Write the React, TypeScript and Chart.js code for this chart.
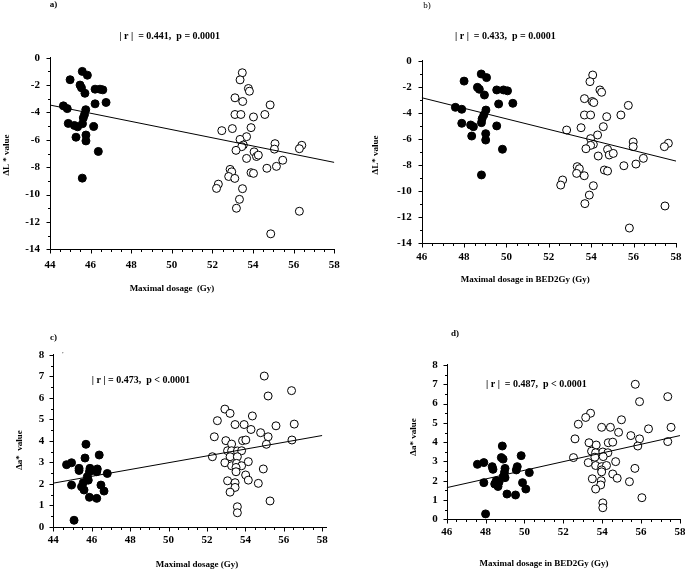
import React, { useEffect, useRef } from "react";
import { Chart, registerables } from "chart.js";

Chart.register(...registerables);

const PAGE_W = 685;
const PAGE_H = 570;
const FONT = "'Liberation Serif', 'Times New Roman', serif";

type Pt = [number, number];

// ---------------- DATA ----------------
// a) ΔL* vs maximal dosage (Gy)
const aFilled: Pt[] = [
  [45.59, -1.0], [45.84, -1.28], [44.99, -1.61], [45.48, -2.0], [45.55, -2.2], [45.72, -2.6],
  [46.22, -2.3], [46.46, -2.3], [46.6, -2.35], [46.76, -3.27], [46.22, -3.37], [44.66, -3.52],
  [44.85, -3.72], [45.76, -3.8], [45.7, -4.15], [45.64, -4.4], [44.9, -4.8], [45.2, -4.95],
  [45.36, -5.05], [45.6, -4.82], [46.15, -5.03], [45.28, -5.81], [45.77, -5.65], [45.77, -6.08],
  [46.38, -6.85], [45.59, -8.8],
];
const aOpen: Pt[] = [
  [53.47, -1.1], [53.36, -1.62], [53.77, -2.25], [53.82, -2.45], [53.11, -2.93], [53.49, -3.2],
  [54.84, -3.45], [53.11, -4.15], [53.4, -4.15], [54.02, -4.33], [54.58, -4.15], [53.9, -5.11],
  [52.46, -5.33], [52.98, -5.18], [53.68, -5.77], [53.36, -5.97], [53.52, -6.38], [53.44, -6.5],
  [53.16, -6.77], [55.08, -6.28], [55.05, -6.68], [56.4, -6.4], [56.28, -6.65], [54.05, -6.88],
  [54.17, -7.22], [54.26, -7.12], [53.68, -7.36], [55.46, -7.49], [55.15, -7.94], [54.68, -8.08],
  [52.87, -8.16], [52.95, -8.34], [53.9, -8.4], [54.02, -8.45], [52.8, -8.68], [53.1, -8.82],
  [52.29, -9.24], [52.2, -9.55], [53.48, -9.57], [53.33, -10.35], [53.18, -11.0], [56.28, -11.22],
  [54.87, -12.87],
];
const aFit: Pt[] = [[44, -3.46], [58, -7.65]];

// b) ΔL* vs maximal dosage in BED2Gy (Gy)
const bFilled: Pt[] = [
  [48.81, -1.0], [49.06, -1.28], [48.0, -1.55], [48.63, -2.03], [48.72, -2.18], [48.96, -2.62],
  [49.54, -2.23], [49.86, -2.23], [50.05, -2.3], [50.3, -3.26], [49.63, -3.31], [47.59, -3.57],
  [47.89, -3.72], [49.03, -3.78], [48.93, -4.16], [48.85, -4.45], [48.82, -4.75], [47.89, -4.8],
  [48.31, -4.93], [48.44, -5.06], [49.54, -5.0], [48.36, -5.78], [49.02, -5.6], [49.02, -6.09],
  [49.81, -6.8], [48.82, -8.78],
];
const bOpen: Pt[] = [
  [54.07, -1.08], [53.94, -1.59], [54.41, -2.23], [54.49, -2.41], [53.68, -2.9], [54.05, -3.12],
  [54.12, -3.2], [55.75, -3.42], [53.68, -4.16], [53.97, -4.16], [54.73, -4.29], [55.4, -4.16],
  [54.57, -5.06], [52.84, -5.32], [53.52, -5.14], [54.3, -5.7], [53.97, -5.98], [54.1, -6.42],
  [53.97, -6.5], [55.98, -6.24], [55.98, -6.6], [57.64, -6.34], [57.45, -6.6], [53.75, -6.76],
  [54.77, -6.81], [54.85, -7.24], [55.04, -7.12], [54.33, -7.32], [56.46, -7.5], [56.11, -7.94],
  [55.54, -8.07], [53.34, -8.14], [53.44, -8.3], [54.62, -8.4], [54.77, -8.48], [53.31, -8.66],
  [53.67, -8.84], [52.65, -9.17], [52.56, -9.56], [54.1, -9.61], [53.91, -10.33], [53.7, -10.99],
  [57.48, -11.17], [55.8, -12.87],
];
const bFit: Pt[] = [[46, -2.83], [58, -7.71]];

// c) Δa* vs maximal dosage (Gy)
const cFilled: Pt[] = [
  [45.08, 0.3], [45.7, 3.84], [46.39, 3.34], [45.65, 3.2], [44.69, 2.89], [44.95, 2.98],
  [45.34, 2.72], [45.34, 2.62], [45.91, 2.72], [45.88, 2.56], [46.29, 2.69], [46.26, 2.56],
  [46.81, 2.48], [45.77, 2.33], [45.82, 2.17], [45.56, 2.05], [45.47, 1.86], [45.6, 1.71],
  [44.95, 1.94], [46.48, 1.94], [46.64, 1.66], [45.88, 1.37], [46.26, 1.32],
];
const cOpen: Pt[] = [
  [54.98, 7.02], [56.4, 6.34], [55.18, 6.09], [52.93, 5.48], [53.2, 5.28], [52.54, 4.94],
  [54.36, 5.16], [53.46, 4.76], [53.93, 4.76], [54.29, 4.53], [55.59, 4.7], [56.54, 4.78],
  [54.79, 4.38], [52.38, 4.19], [55.18, 4.19], [56.42, 4.04], [52.98, 4.01], [53.28, 3.85],
  [53.85, 4.01], [54.02, 4.04], [55.09, 3.84], [52.28, 3.26], [53.07, 3.54], [53.28, 3.54],
  [53.58, 3.53], [53.8, 3.54], [53.2, 3.26], [53.58, 3.26], [52.93, 2.98], [53.28, 2.84],
  [53.54, 2.95], [53.8, 2.84], [53.51, 2.76], [53.51, 2.56], [54.15, 3.03], [54.93, 2.69],
  [54.01, 2.41], [53.07, 2.14], [53.46, 2.05], [54.15, 2.17], [54.67, 2.02], [53.46, 1.83],
  [53.2, 1.61], [55.28, 1.2], [53.58, 0.93], [53.58, 0.65],
];
const cFit: Pt[] = [[44, 2.03], [58, 4.25]];

// d) Δa* vs maximal dosage in BED2Gy (Gy)
const dFilled: Pt[] = [
  [48.0, 0.28], [48.86, 3.8], [49.83, 3.3], [48.81, 3.2], [48.9, 3.12], [47.58, 2.85],
  [47.91, 2.94], [48.34, 2.73], [48.38, 2.59], [49.0, 2.64], [48.97, 2.43], [49.63, 2.73],
  [49.58, 2.56], [50.25, 2.42], [48.9, 2.2], [49.0, 2.16], [48.55, 2.0], [48.69, 1.92],
  [47.91, 1.9], [48.47, 1.83], [48.64, 1.7], [49.9, 1.9], [50.07, 1.57], [49.1, 1.31],
  [49.54, 1.26],
];
const dOpen: Pt[] = [
  [55.7, 7.0], [57.37, 6.36], [55.92, 6.1], [53.4, 5.5], [53.15, 5.28], [52.77, 4.93],
  [54.99, 5.16], [53.97, 4.77], [54.42, 4.77], [54.84, 4.51], [56.38, 4.69], [57.54, 4.77],
  [55.47, 4.34], [52.6, 4.17], [55.92, 4.17], [57.37, 4.03], [53.32, 3.97], [53.69, 3.85],
  [54.31, 3.97], [54.54, 4.0], [55.83, 3.8], [52.52, 3.2], [53.45, 3.53], [53.66, 3.45],
  [54.03, 3.49], [54.29, 3.45], [53.62, 3.22], [54.05, 3.25], [53.28, 2.94], [53.66, 2.79],
  [53.97, 2.73], [54.22, 2.79], [53.97, 2.56], [53.97, 2.46], [54.69, 2.99], [55.68, 2.64],
  [54.54, 2.35], [53.49, 2.1], [53.95, 2.0], [54.77, 2.13], [55.4, 1.95], [53.92, 1.78],
  [53.66, 1.57], [56.04, 1.12], [54.03, 0.85], [54.03, 0.6],
];
const dFit: Pt[] = [[46, 1.64], [58, 4.34]];

// axis ranges / tick steps
const xRangeGy = [44, 58];
const xRangeBed = [46, 58];
const yRangeL = [-14, 0];
const yRangeA = [0, 8];

// texts
const titleXGy = "Maximal dosage  (Gy)";
const titleXGy2 = "Maximal dosage (Gy)";
const titleXBed = "Maximal dosage in BED2Gy (Gy)";

// ---------------- LAYOUT ----------------
interface TextSpec {
  text: string; x: number; y: number; size: number; bold?: boolean;
  align?: CanvasTextAlign; rotate?: boolean;
}
interface PanelSpec {
  filled: Pt[]; open: Pt[]; fit: Pt[];
  xr: number[]; yr: number[];
  xStep: number; xMinor: number; yStep: number; yMinor: number;
  area: { left: number; top: number; right: number; bottom: number };
  yLabelPad: number; xLabelPad: number; xAxisExt: number;
  texts: TextSpec[];
}

const PANELS: PanelSpec[] = [
  {
    filled: aFilled, open: aOpen, fit: aFit, xr: xRangeGy, yr: yRangeL,
    xStep: 2, xMinor: 0.5, yStep: 2, yMinor: 1,
    area: { left: 50, top: 57.7, right: 334.3, bottom: 249.3 },
    yLabelPad: 10, xLabelPad: 9.2, xAxisExt: 1,
    texts: [
      { text: "a)", x: 53.5, y: 5, size: 9, bold: true },
      { text: "| r |  = 0.441,  p = 0.0001", x: 119.3, y: 36.7, size: 10, bold: true, align: "left" },
      { text: titleXGy, x: 172, y: 289, size: 9, bold: true },
      { text: "\u0394L * value", x: 7, y: 155, size: 9, bold: true, rotate: true },
    ],
  },
  {
    filled: bFilled, open: bOpen, fit: bFit, xr: xRangeBed, yr: yRangeL,
    xStep: 2, xMinor: 0.5, yStep: 2, yMinor: 1,
    area: { left: 421.7, top: 61, right: 676, bottom: 242.7 },
    yLabelPad: 10, xLabelPad: 7.5, xAxisExt: 1,
    texts: [
      { text: "b)", x: 427, y: 5.5, size: 9, bold: false },
      { text: "| r |  = 0.433,  p = 0.0001", x: 455, y: 36.7, size: 10, bold: true, align: "left" },
      { text: titleXBed, x: 525.3, y: 280, size: 9, bold: true },
      { text: "\u0394L* value", x: 376, y: 155, size: 9, bold: true, rotate: true },
    ],
  },
  {
    filled: cFilled, open: cOpen, fit: cFit, xr: xRangeGy, yr: yRangeA,
    xStep: 2, xMinor: 0.5, yStep: 1, yMinor: 0.5,
    area: { left: 53.3, top: 355, right: 322.3, bottom: 526.7 },
    yLabelPad: 9, xLabelPad: 6.8, xAxisExt: 5,
    texts: [
      { text: "c)", x: 53.5, y: 337.5, size: 9, bold: true },
      { text: "'", x: 63, y: 354, size: 7, bold: false },
      { text: "| r | = 0.473,  p < 0.0001", x: 91.7, y: 380.7, size: 10, bold: true, align: "left" },
      { text: titleXGy2, x: 197, y: 565, size: 9, bold: true },
      { text: "\u0394a*  value", x: 20, y: 450, size: 9, bold: true, rotate: true },
    ],
  },
  {
    filled: dFilled, open: dOpen, fit: dFit, xr: xRangeBed, yr: yRangeA,
    xStep: 2, xMinor: 0.5, yStep: 1, yMinor: 0.5,
    area: { left: 446.7, top: 365, right: 681.7, bottom: 519.3 },
    yLabelPad: 9, xLabelPad: 6.2, xAxisExt: 1,
    texts: [
      { text: "d)", x: 455, y: 333.5, size: 9, bold: true },
      { text: "| r |  = 0.487,  p < 0.0001", x: 486, y: 384.3, size: 10, bold: true, align: "left" },
      { text: titleXBed, x: 544, y: 564, size: 9, bold: true },
      { text: "\u0394a* value", x: 414, y: 437, size: 9, bold: true, rotate: true },
    ],
  },
];

const Y_AXIS_W = 30;
const X_AXIS_H = 30;

function isMultiple(v: number, step: number) {
  const r = v / step;
  return Math.abs(r - Math.round(r)) < 1e-6;
}

function makeDecoPlugin(spec: PanelSpec) {
  return {
    id: "panelDeco",
    afterDraw(chart: any) {
      const { ctx, chartArea: ca, scales } = chart;
      const xs = scales.x;
      const ys = scales.y;
      ctx.save();
      ctx.strokeStyle = "#000";
      ctx.lineWidth = 1;
      const lx = Math.round(ca.left) + 0.5;
      const by = Math.round(ca.bottom) + 0.5;
      ctx.beginPath();
      ctx.moveTo(lx, Math.round(ca.top) - 1);
      ctx.lineTo(lx, by);
      ctx.lineTo(Math.round(ca.right) + spec.xAxisExt, by);
      const nx = Math.round((spec.xr[1] - spec.xr[0]) / spec.xMinor);
      for (let i = 0; i <= nx; i++) {
        const v = spec.xr[0] + i * spec.xMinor;
        const px = Math.round(xs.getPixelForValue(v)) + 0.5;
        const len = isMultiple(v, spec.xStep) ? 4 : 2.5;
        ctx.moveTo(px, by);
        ctx.lineTo(px, by + len);
      }
      const ny = Math.round((spec.yr[1] - spec.yr[0]) / spec.yMinor);
      for (let i = 0; i <= ny; i++) {
        const v = spec.yr[0] + i * spec.yMinor;
        const py = Math.round(ys.getPixelForValue(v)) + 0.5;
        const len = isMultiple(v, spec.yStep) ? 4 : 2.5;
        ctx.moveTo(lx, py);
        ctx.lineTo(lx - len, py);
      }
      ctx.stroke();

      ctx.fillStyle = "#000";
      ctx.textBaseline = "middle";
      for (const t of spec.texts) {
        ctx.font = `${t.bold ? "bold " : ""}${t.size}px ${FONT}`;
        ctx.textAlign = t.align || "center";
        if (t.rotate) {
          ctx.save();
          ctx.translate(t.x, t.y);
          ctx.rotate(-Math.PI / 2);
          ctx.fillText(t.text, 0, 0);
          ctx.restore();
        } else {
          ctx.fillText(t.text, t.x, t.y);
        }
      }
      ctx.restore();
    },
  };
}

function toXY(pts: Pt[]) {
  return pts.map(([x, y]) => ({ x, y }));
}

function makeConfig(spec: PanelSpec): any {
  const tickFont = { family: FONT, size: 11, weight: "bold" as const };
  return {
    type: "scatter",
    data: {
      datasets: [
        {
          label: "fit",
          type: "line",
          data: toXY(spec.fit),
          borderColor: "#000",
          borderWidth: 1,
          pointRadius: 0,
          fill: false,
          showLine: true,
          order: 0,
        },
        {
          label: "open",
          data: toXY(spec.open),
          pointRadius: 4,
          pointBackgroundColor: "#fff",
          pointBorderColor: "#000",
          pointBorderWidth: 1,
          order: 2,
        },
        {
          label: "filled",
          data: toXY(spec.filled),
          pointRadius: 4,
          pointBackgroundColor: "#000",
          pointBorderColor: "#000",
          pointBorderWidth: 1,
          order: 1,
        },
      ],
    },
    options: {
      responsive: false,
      animation: false,
      events: [],
      layout: {
        padding: {
          left: spec.area.left - Y_AXIS_W,
          top: spec.area.top,
          right: PAGE_W - spec.area.right,
          bottom: PAGE_H - spec.area.bottom - X_AXIS_H,
        },
      },
      plugins: { legend: { display: false }, tooltip: { enabled: false } },
      scales: {
        x: {
          type: "linear",
          min: spec.xr[0],
          max: spec.xr[1],
          afterFit: (s: any) => {
            s.height = X_AXIS_H;
            s.paddingLeft = 0;
            s.paddingRight = 0;
          },
          grid: { display: false, drawTicks: false },
          border: { display: false },
          ticks: {
            stepSize: spec.xStep,
            autoSkip: false,
            maxRotation: 0,
            padding: spec.xLabelPad,
            color: "#000",
            font: tickFont,
          },
        },
        y: {
          type: "linear",
          min: spec.yr[0],
          max: spec.yr[1],
          afterFit: (s: any) => {
            s.width = Y_AXIS_W;
            s.paddingTop = 0;
            s.paddingBottom = 0;
          },
          grid: { display: false, drawTicks: false },
          border: { display: false },
          ticks: {
            stepSize: spec.yStep,
            autoSkip: false,
            padding: spec.yLabelPad,
            color: "#000",
            font: tickFont,
          },
        },
      },
    },
    plugins: [makeDecoPlugin(spec)],
  };
}

function PanelChart({ spec }: { spec: PanelSpec }) {
  const ref = useRef<HTMLCanvasElement>(null);
  useEffect(() => {
    if (!ref.current) return;
    const chart = new Chart(ref.current, makeConfig(spec));
    return () => chart.destroy();
  }, [spec]);
  return (
    <canvas
      ref={ref}
      width={PAGE_W}
      height={PAGE_H}
      style={{ position: "absolute", left: 0, top: 0, width: PAGE_W, height: PAGE_H }}
    />
  );
}

export default function App() {
  return (
    <div
      style={{
        position: "fixed",
        left: 0,
        top: 0,
        width: PAGE_W,
        height: PAGE_H,
        background: "#fff",
        overflow: "hidden",
      }}
    >
      {PANELS.map((s, i) => (
        <PanelChart key={i} spec={s} />
      ))}
    </div>
  );
}
